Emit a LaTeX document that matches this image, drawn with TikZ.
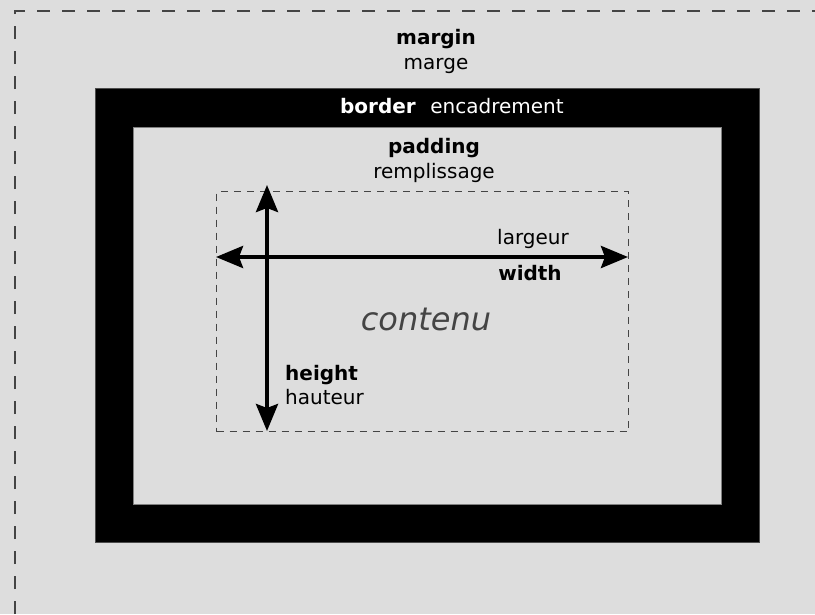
\documentclass[tikz,border=0pt]{standalone}
\usepackage{fontspec}
\setmainfont{DejaVu Sans}
\usetikzlibrary{arrows.meta}
\definecolor{bg}{HTML}{DDDDDD}
\definecolor{dashgray}{HTML}{444444}
\definecolor{contgray}{HTML}{444444}
\tikzset{
  lbl/.style={font=\fontsize{20}{24}\selectfont, inner sep=0pt, anchor=base},
  bold/.style={lbl, font=\fontsize{20}{24}\selectfont\bfseries},
  dimarrow/.style={line width=4pt, {Stealth[length=27pt,width=22pt,inset=4pt]}-{Stealth[length=27pt,width=22pt,inset=4pt]}},
}
\begin{document}
\begin{tikzpicture}[x=1pt,y=-1pt]
\useasboundingbox (0,0) rectangle (815,614);
\fill[bg] (0,0) rectangle (815,614);
% outer margin dashed
\coordinate (m1) at (15,614);
\coordinate (m2) at (15,11);
\coordinate (m3) at (815,11);
\draw[dashgray, line width=1.4pt, dash pattern=on 13pt off 12pt] (m1) -- (m2) -- (m3);
% border
\node[draw=black!70, fill=black, line width=1pt, minimum width=664pt, minimum height=454pt, inner sep=0pt, anchor=north west] (border) at (95,88) {};
\node[draw=black!50, fill=bg, line width=0.8pt, minimum width=588pt, minimum height=377pt, inner sep=0pt, anchor=north west] (padding) at (133,127) {};
% content
\node[draw=dashgray, line width=1.1pt, dash pattern=on 7pt off 6pt, minimum width=412pt, minimum height=240pt, inner sep=0pt, anchor=north west] (content) at (216,191) {};
% texts
\node[bold] (tmargin) at (436,44) {margin};
\node[lbl] (tmarge) at (436,69) {marge};
\node[bold, text=white] (tborder) at (378,113) {border};
\node[lbl, text=white] (tenc) at (497,113) {encadrement};
\node[bold] (tpad) at (434,153) {padding};
\node[lbl] (trem) at (434,178) {remplissage};
\node[lbl] (tlarg) at (533,244) {largeur};
\node[bold] (twidth) at (530,280) {width};
\node[lbl, font=\fontsize{32}{38}\selectfont\itshape, text=contgray] (tcont) at (426,330) {contenu};
\node[bold, anchor=base west] (theight) at (285,380) {height};
\node[lbl, anchor=base west] (thaut) at (285,404) {hauteur};
% arrows
\coordinate (hl) at (216,257);
\coordinate (hr) at (628,257);
\coordinate (vt) at (267,185);
\coordinate (vb) at (267,431);
\draw[dimarrow] (hl) -- (hr);
\draw[dimarrow] (vt) -- (vb);
\end{tikzpicture}
\end{document}
